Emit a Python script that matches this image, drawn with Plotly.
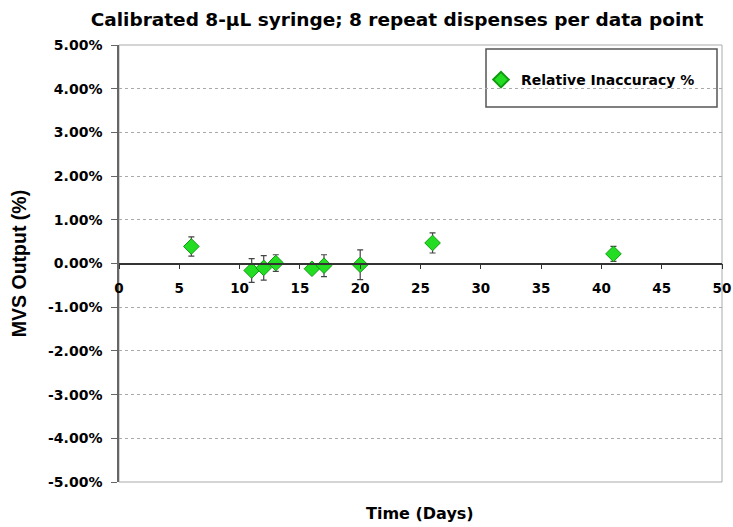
import plotly.graph_objects as go

days = [6, 11, 12, 13, 16, 17, 20, 26, 41]
inaccuracy = [0.39, -0.16, -0.10, 0.01, -0.12, -0.05, -0.03, 0.47, 0.22]
err = [0.22, 0.27, 0.28, 0.19, 0.08, 0.25, 0.34, 0.23, 0.17]
ytick_vals = [5, 4, 3, 2, 1, 0, -1, -2, -3, -4, -5]
ytick_text = ["5.00%", "4.00%", "3.00%", "2.00%", "1.00%", "0.00%",
              "-1.00%", "-2.00%", "-3.00%", "-4.00%", "-5.00%"]
xtick_vals = [0, 5, 10, 15, 20, 25, 30, 35, 40, 45, 50]

DV = "DejaVu Sans, sans-serif"
AX = "Arial, Liberation Sans, sans-serif"

W, H = 733, 527
L, T, R, B = 119, 45, 11, 45
PW, PH = W - L - R, H - T - B


def px_x(v):
    return (v - L) / PW


def px_y(v):
    return (H - B - v) / PH


fig = go.Figure()
fig.add_trace(go.Scatter(
    x=days, y=inaccuracy, mode="markers", name="Relative Inaccuracy %",
    marker=dict(symbol="diamond", size=12, color="#22dd22",
                line=dict(color="#119911", width=1)),
    error_y=dict(type="data", array=err, visible=True, color="#444444",
                 thickness=1.2, width=3),
))

fig.update_layout(
    width=W, height=H,
    margin=dict(l=L, r=R, t=T, b=B, autoexpand=False),
    paper_bgcolor="white", plot_bgcolor="white",
    title=dict(text="Calibrated 8-µL syringe; 8 repeat dispenses per data point",
               x=397 / W, xanchor="center", xref="container",
               y=1 - 20 / H, yanchor="middle", yref="container",
               font=dict(family=DV, size=18.5, color="black", weight="bold")),
    showlegend=True,
    legend=dict(x=px_x(481), y=px_y(80), xanchor="left", yanchor="middle",
                bgcolor="rgba(0,0,0,0)", borderwidth=0,
                font=dict(family=DV, size=14, color="black", weight="bold"),
                itemsizing="constant"),
    xaxis=dict(range=[0, 50], tickvals=xtick_vals, showgrid=False,
               anchor="free", position=0.5, showline=True, linecolor="#333333",
               linewidth=1.5, ticks="outside", ticklen=5, tickcolor="#333333",
               ticklabelstandoff=8, zeroline=False, ticklabeloverflow="allow",
               automargin=False,
               tickfont=dict(family=DV, size=13.5, color="black", weight="bold")),
    yaxis=dict(range=[-5, 5], tickvals=ytick_vals, ticktext=ytick_text,
               showgrid=True, gridcolor="#aaaaaa", griddash="dot", gridwidth=1,
               zeroline=False, showline=True, linecolor="#666666", linewidth=1.5,
               ticks="outside", ticklen=6, tickcolor="#666666", ticklabelstandoff=6,
               automargin=False,
               title=dict(text="MVS Output (%)", standoff=16,
                          font=dict(family=AX, size=19.5, color="black", weight="bold")),
               tickfont=dict(family=DV, size=14, color="black", weight="bold")),
)

# plot area border
fig.add_shape(type="rect", xref="paper", yref="paper", x0=0, x1=1, y0=0, y1=1,
              line=dict(color="#aaaaaa", width=1), layer="below")
# legend box
fig.add_shape(type="rect", xref="paper", yref="paper",
              x0=px_x(486), x1=px_x(717), y0=px_y(107), y1=px_y(49),
              line=dict(color="#555555", width=1.5), fillcolor="white", layer="below")

fig.add_annotation(text="Time (Days)", xref="paper", yref="paper",
                   x=px_x(420), y=px_y(513), showarrow=False,
                   xanchor="center", yanchor="middle",
                   font=dict(family=DV, size=16, color="black", weight="bold"))

fig.write_html("out.html",
               config={"displayModeBar": False},
               post_script="document.body.style.margin='0';"
                           "document.body.style.overflow='hidden';")
